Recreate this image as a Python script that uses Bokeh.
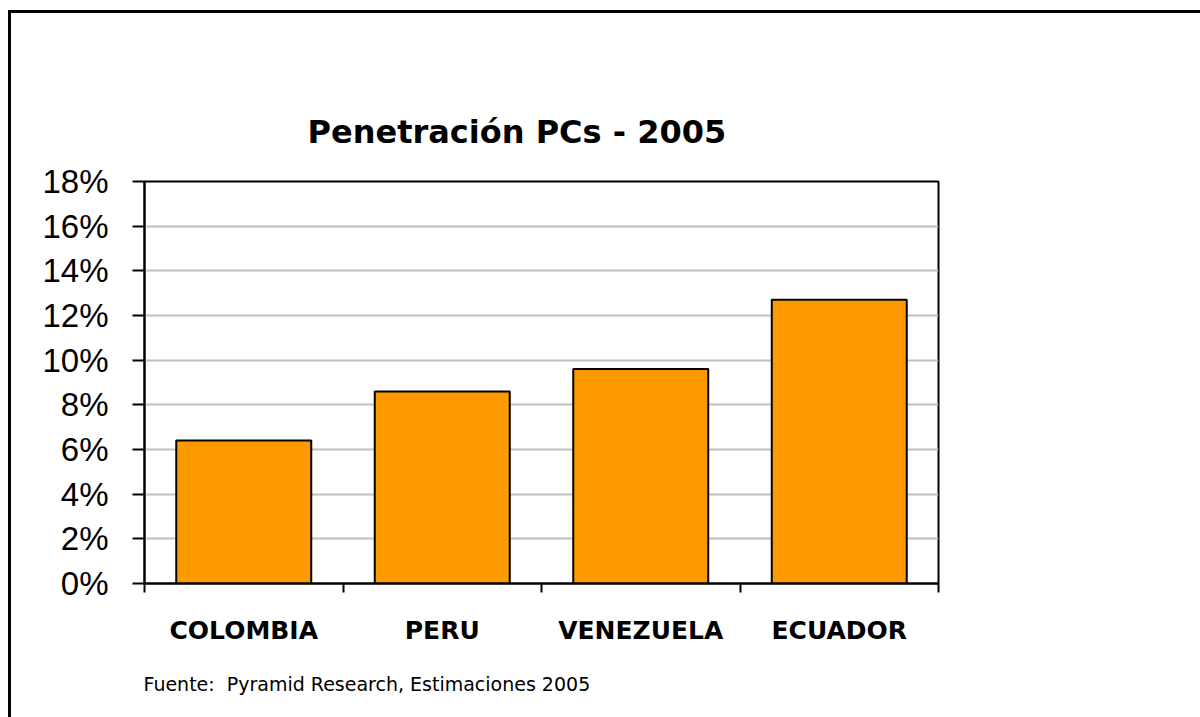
from bokeh.plotting import figure
from bokeh.models import (FactorRange, Range1d, LinearAxis, CategoricalAxis, FixedTicker,
                          NumeralTickFormatter, Title, ColumnDataSource, Grid)
from bokeh.embed import file_html
from bokeh.resources import INLINE

# ---- data ----
categories = ["COLOMBIA", "PERU", "VENEZUELA", "ECUADOR"]
values = [0.064, 0.086, 0.096, 0.127]
y_ticks = [0.0, 0.02, 0.04, 0.06, 0.08, 0.10, 0.12, 0.14, 0.16, 0.18]
title_text = "Penetración PCs - 2005"
source_note = "Fuente:\u00a0 Pyramid Research, Estimaciones 2005"

# ---- geometry (canvas pixels) ----
W, H = 1200, 717
FL, FT, FR, FB = 144, 181, 938, 584

# outer frame of the chart area (left and top edges; right/bottom lie beyond the window)
border_css = (":host { background-color: white;"
              " background-image: linear-gradient(#000, #000), linear-gradient(#000, #000);"
              " background-size: 3px 100%, 100% 3px;"
              " background-position: 8px 10px, 8px 10px;"
              " background-repeat: no-repeat; }")

p = figure(x_range=FactorRange(*categories, range_padding=0),
           y_range=Range1d(y_ticks[0], y_ticks[-1]),
           width=W, height=H, output_backend="svg", toolbar_location=None,
           min_border_left=FL, min_border_top=FT,
           min_border_right=W - FR, min_border_bottom=H - FB,
           x_axis_location=None, y_axis_location=None,
           stylesheets=[border_css])
p.background_fill_color = "white"
p.border_fill_color = None
p.outline_line_color = "black"
p.outline_line_width = 2
p.outline_line_alpha = 1
p.xgrid.visible = False
p.ygrid.visible = False

# title
p.title.text = title_text
p.title.align = "left"
p.title.offset = 307 - FL
p.title.standoff = 62
p.title.text_font = "DejaVu Sans"
p.title.text_font_style = "bold"
p.title.text_font_size = "32px"
p.title.text_color = "black"

# gridlines
p.add_layout(Grid(dimension=1, ticker=FixedTicker(ticks=y_ticks),
                  grid_line_color="#c0c0c0", grid_line_width=2))

# y axis
yaxis = LinearAxis(ticker=FixedTicker(ticks=y_ticks),
                   formatter=NumeralTickFormatter(format="0%"))
yaxis.major_tick_in = 0
yaxis.major_tick_out = 12
yaxis.major_tick_line_width = 2
yaxis.minor_tick_line_color = None
yaxis.axis_line_width = 2
yaxis.major_label_standoff = 24
yaxis.major_label_text_font = "Liberation Sans"
yaxis.major_label_text_font_size = "33px"
yaxis.major_label_text_color = "black"
p.add_layout(yaxis, "left")

# bars
src = ColumnDataSource(dict(cat=categories, val=values))
p.vbar(x="cat", top="val", width=0.68, source=src,
       fill_color="#FF9900", line_color="black", line_width=2)

# boundary ticks on x (category edges, in the range's synthetic coordinates)
bticks = list(range(len(categories) + 1))
tick_axis = LinearAxis(ticker=FixedTicker(ticks=bticks))
tick_axis.major_tick_in = 0
tick_axis.major_tick_out = 9
tick_axis.major_tick_line_width = 2
tick_axis.minor_tick_line_color = None
tick_axis.axis_line_width = 2
tick_axis.major_label_overrides = {t: "" for t in bticks}
tick_axis.major_label_text_font_size = "1px"
tick_axis.major_label_standoff = 0
p.add_layout(tick_axis, "below")

# category labels
cat_axis = CategoricalAxis()
cat_axis.major_tick_line_color = None
cat_axis.axis_line_color = None
cat_axis.major_label_standoff = 17
cat_axis.major_label_text_font = "DejaVu Sans"
cat_axis.major_label_text_font_style = "bold"
cat_axis.major_label_text_font_size = "25px"
cat_axis.major_label_text_color = "black"
p.add_layout(cat_axis, "below")

# source note
note = Title(text=source_note, align="left", offset=143 - FL, standoff=46,
             text_font="DejaVu Sans", text_font_style="normal",
             text_font_size="19px", text_color="black")
p.add_layout(note, "below")

open("out.html", "w").write(file_html(p, INLINE))
